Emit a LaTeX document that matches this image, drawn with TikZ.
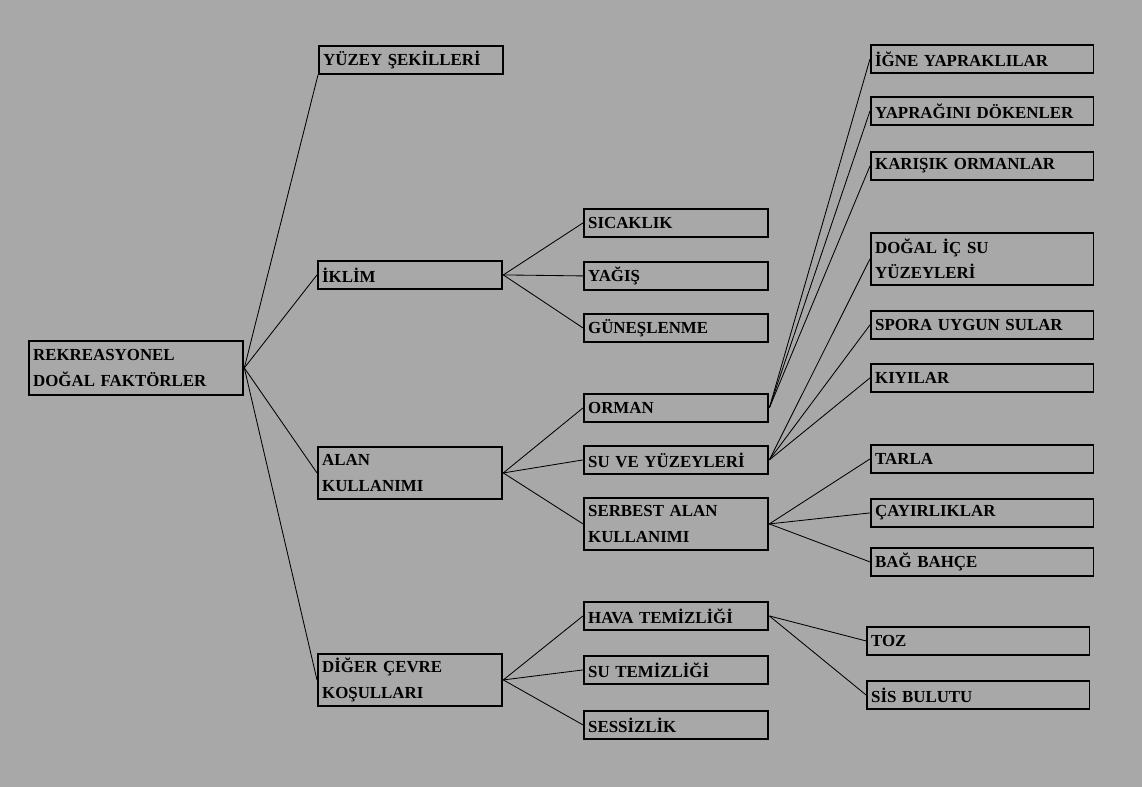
\documentclass[tikz,border=0pt]{standalone}
\usepackage{fontspec}
\setmainfont{Liberation Serif}
\usetikzlibrary{positioning}

\definecolor{zemin}{RGB}{168,168,168}

\begin{document}
\begin{tikzpicture}[
  x=0.025cm, y=-0.025cm,
  kutu/.style = {draw, line width=1.3pt, anchor=north west, align=left, inner sep=3pt,
                 font=\fontsize{12}{18}\selectfont\bfseries},
  kok/.style  = {kutu, text width=5.15cm, minimum height=1.35cm},
  orta/.style = {kutu, text width=4.4cm, minimum height=0.7cm},
  sag/.style  = {kutu, text width=5.35cm, minimum height=0.7cm},
  iki/.style  = {minimum height=1.3cm},
  hat/.style  = {line width=0.6pt}
]
  \fill[zemin] (0,0) rectangle (1142,787);

  % ana dallar
  \node[kok] (kok) at (28,340) {REKREASYONEL\\DOĞAL FAKTÖRLER};
  \node[orta] (yuzey)  at (318,45)  {YÜZEY ŞEKİLLERİ};
  \node[orta] (iklim)  at (317,260) {İKLİM};
  \node[orta, iki] (alan)  at (317,446) {ALAN\\KULLANIMI};
  \node[orta, iki] (diger) at (317,653) {DİĞER ÇEVRE\\KOŞULLARI};

  % orta sutun
  \node[orta] (sicaklik) at (583,208) {SICAKLIK};
  \node[orta] (yagis)    at (583,261) {YAĞIŞ};
  \node[orta] (gunes)    at (583,313) {GÜNEŞLENME};
  \node[orta] (orman)    at (583,393) {ORMAN};
  \node[orta] (su)       at (583,445) {SU VE YÜZEYLERİ};
  \node[orta, iki] (serbest) at (583,497) {SERBEST ALAN\\KULLANIMI};
  \node[orta] (hava)     at (583,601) {HAVA TEMİZLİĞİ};
  \node[orta] (sutemiz)  at (583,655) {SU TEMİZLİĞİ};
  \node[orta] (sessiz)   at (583,710) {SESSİZLİK};

  % sag sutun
  \node[sag] (igne)    at (870,44)  {İĞNE YAPRAKLILAR};
  \node[sag] (yaprak)  at (870,96)  {YAPRAĞINI DÖKENLER};
  \node[sag] (karisik) at (870,151) {KARIŞIK ORMANLAR};
  \node[sag, iki] (dogal) at (870,232) {DOĞAL İÇ SU\\YÜZEYLERİ};
  \node[sag] (spor)    at (870,310) {SPORA UYGUN SULAR};
  \node[sag] (kiyi)    at (870,363) {KIYILAR};
  \node[sag] (tarla)   at (870,444) {TARLA};
  \node[sag] (cayir)   at (870,498) {ÇAYIRLIKLAR};
  \node[sag] (bag)     at (870,547) {BAĞ BAHÇE};
  \node[sag] (toz)     at (866,626) {TOZ};
  \node[sag] (sis)     at (866,680) {SİS BULUTU};

  % baglantilar
  \draw[hat] (kok.east) -- (yuzey.south west);
  \draw[hat] (kok.east) -- (iklim.west);
  \draw[hat] (kok.east) -- (alan.west);
  \draw[hat] (kok.east) -- (diger.west);

  \draw[hat] (iklim.east) -- (sicaklik.west);
  \draw[hat] (iklim.east) -- (yagis.west);
  \draw[hat] (iklim.east) -- (gunes.west);

  \draw[hat] (alan.east) -- (orman.west);
  \draw[hat] (alan.east) -- (su.west);
  \draw[hat] (alan.east) -- (serbest.west);

  \draw[hat] (diger.east) -- (hava.west);
  \draw[hat] (diger.east) -- (sutemiz.west);
  \draw[hat] (diger.east) -- (sessiz.west);

  \draw[hat] (orman.east) -- (igne.west);
  \draw[hat] (orman.east) -- (yaprak.west);
  \draw[hat] (orman.east) -- (karisik.west);

  \draw[hat] (su.east) -- (dogal.west);
  \draw[hat] (su.east) -- (spor.west);
  \draw[hat] (su.east) -- (kiyi.west);

  \draw[hat] (serbest.east) -- (tarla.west);
  \draw[hat] (serbest.east) -- (cayir.west);
  \draw[hat] (serbest.east) -- (bag.west);

  \draw[hat] (hava.east) -- (toz.west);
  \draw[hat] (hava.east) -- (sis.west);
\end{tikzpicture}
\end{document}
